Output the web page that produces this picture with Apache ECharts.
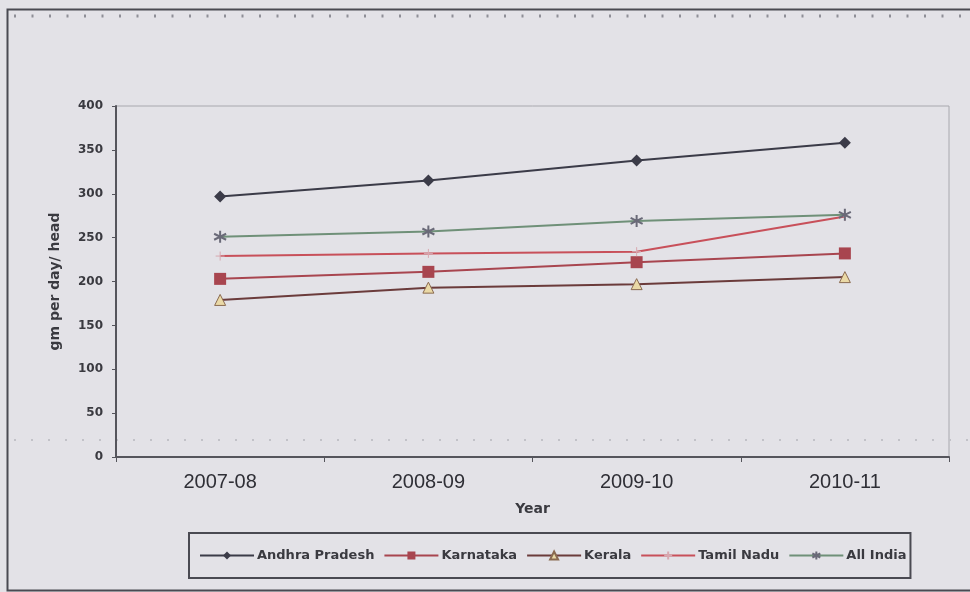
<!DOCTYPE html>
<html>
<head>
<meta charset="utf-8">
<script src="https://cdn.jsdelivr.net/npm/echarts@6/dist/echarts.min.js"></script>
<style>
html,body{margin:0;padding:0;background:#e3e2e7;}
#chart{width:970px;height:592px;}
</style>
</head>
<body>
<div id="chart"></div>
<script>
const years = ['2007-08', '2008-09', '2009-10', '2010-11'];
const andhraPradesh = [297, 315, 338, 358];
const karnataka = [203, 211, 222, 232];
const kerala = [179, 193, 197, 205];
const tamilNadu = [229, 232, 234, 274];
const allIndia = [251, 257, 269, 276];
const yTicks = [0, 50, 100, 150, 200, 250, 300, 350, 400];

const chart = echarts.init(document.getElementById('chart'), null, {renderer: 'canvas'});
const starPath = 'path://M5,0L5,10M0,2.5L10,7.5M0,7.5L10,2.5';
const plusPath = 'path://M5,0L5,10M0,5L10,5';

const option = {
  backgroundColor: '#e3e2e7',
  animation: false,
  textStyle: {fontFamily: 'DejaVu Sans'},
  grid: {left: 116, right: 21, top: 106, bottom: 135, show: true, borderColor: '#a8a8ae', borderWidth: 1, backgroundColor: 'transparent'},
  graphic: [
    {type: 'rect', left: 5, top: 7, shape: {width: 990, height: 581}, style: {fill: 'none', stroke: '#4a4a52', lineWidth: 2}, z: 0},
    {type: 'line', shape: {x1: 14, y1: 16, x2: 968, y2: 16}, style: {stroke: '#8e8e96', lineWidth: 3, lineDash: [2, 15.5]}, z: 0},
    {type: 'line', shape: {x1: 14, y1: 440, x2: 968, y2: 440}, style: {stroke: '#c2c2c8', lineWidth: 2, lineDash: [2, 15]}, z: 0}
  ],
  legend: {
    left: 189, top: 533,
    padding: [16, 4, 16, 10],
    borderColor: '#4a4a52', borderWidth: 2,
    itemWidth: 54, itemHeight: 10, itemGap: 9,
    textStyle: {fontFamily: 'DejaVu Sans', fontWeight: 'bold', fontSize: 13, color: '#3a3a40', padding: [0, 0, 0, -2]},
    data: ['Andhra Pradesh', 'Karnataka', 'Kerala', 'Tamil Nadu', 'All India']
  },
  xAxis: {
    type: 'category',
    data: years,
    boundaryGap: true,
    name: 'Year',
    nameLocation: 'middle',
    nameGap: 45,
    nameTextStyle: {fontFamily: 'DejaVu Sans', fontWeight: 'bold', fontSize: 14, color: '#3a3a40'},
    axisLine: {lineStyle: {color: '#55555c', width: 2}},
    axisTick: {show: true, alignWithLabel: false, length: 5, lineStyle: {color: '#55555c', width: 1}},
    axisLabel: {fontFamily: 'Liberation Sans', fontSize: 20, color: '#2f2f36', margin: 15},
    splitLine: {show: false}
  },
  yAxis: {
    type: 'value',
    min: 0, max: 400, interval: 50,
    name: 'gm per day/ head',
    nameLocation: 'middle',
    nameGap: 54,
    nameRotate: 90,
    nameTextStyle: {fontFamily: 'DejaVu Sans', fontWeight: 'bold', fontSize: 14, color: '#3a3a40'},
    axisLine: {show: true, lineStyle: {color: '#55555c', width: 2}},
    axisTick: {show: true, length: 4, lineStyle: {color: '#55555c', width: 1}},
    axisLabel: {fontFamily: 'DejaVu Sans', fontWeight: 'bold', fontSize: 12, color: '#3a3a40', margin: 13,
      formatter: v => yTicks.includes(v) ? String(v) : ''},
    splitLine: {show: false}
  },
  series: [
    {name: 'Andhra Pradesh', type: 'line', data: andhraPradesh, symbol: 'diamond', symbolSize: 12,
      lineStyle: {color: '#3b3b48', width: 2}, itemStyle: {color: '#3b3b48'}},
    {name: 'Karnataka', type: 'line', data: karnataka, symbol: 'rect', symbolSize: 12,
      lineStyle: {color: '#a8454f', width: 2}, itemStyle: {color: '#a8454f'}},
    {name: 'Kerala', type: 'line', data: kerala, symbol: 'triangle', symbolSize: 11,
      lineStyle: {color: '#6b3b3b', width: 2}, itemStyle: {color: '#ead9a6', borderColor: '#8a6a50', borderWidth: 1}},
    {name: 'Tamil Nadu', type: 'line', data: tamilNadu, symbol: plusPath, symbolSize: 9,
      lineStyle: {color: '#c8505a', width: 2}, itemStyle: {color: 'none', borderColor: '#d8a8b0', borderWidth: 1}},
    {name: 'All India', type: 'line', data: allIndia, symbol: starPath, symbolSize: 12,
      lineStyle: {color: '#6f9078', width: 2}, itemStyle: {color: 'none', borderColor: '#6a6a78', borderWidth: 2}}
  ]
};
chart.setOption(option);
</script>
</body>
</html>
